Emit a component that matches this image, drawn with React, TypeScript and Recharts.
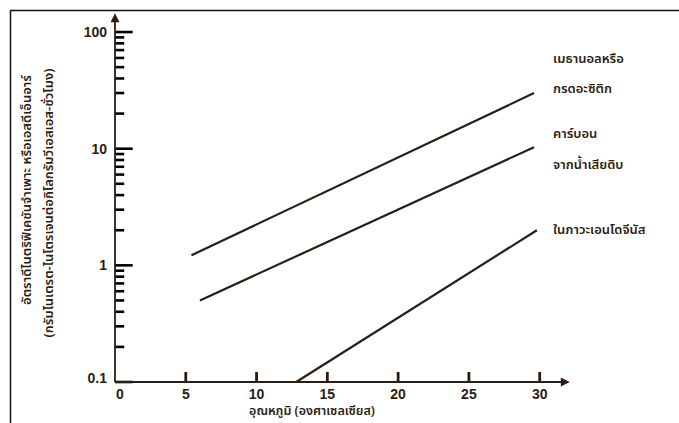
import React from "react";
import { LineChart, Line, XAxis, YAxis, ReferenceLine } from "recharts";

const INK = "#2b1d14";
const FONT = "'Noto Sans Thai', 'Noto Sans', 'DejaVu Sans', sans-serif";

// จุดปลายของแต่ละเส้น (อุณหภูมิ °C, อัตรา SDNR)
const methanolTemp = [5.4, 29.6];
const methanolRate = [1.22, 30];
const rawCarbonTemp = [6.0, 29.6];
const rawCarbonRate = [0.5, 10.3];
const endogenousTemp = [12.8, 29.8];
const endogenousRate = [0.1, 2.0];

const xTicks = [0, 5, 10, 15, 20, 25, 30];
const yTicks = [
  0.1, 0.2, 0.3, 0.4, 0.5, 0.6, 0.7, 0.8, 0.9,
  1, 2, 3, 4, 5, 6, 7, 8, 9,
  10, 20, 30, 40, 50, 60, 70, 80, 90,
  100,
];
const yMajor = [0.1, 1, 10, 100];

const seriesLabels = [
  ["เมธานอลหรือ", "กรดอะซิติก"],
  ["คาร์บอน", "จากน้ำเสียดิบ"],
  ["ในภาวะเอนโดจีนัส"],
];
const yTitle = [
  "อัตราดีไนตริฟิเคชันจำเพาะ หรือเอสดีเอ็นอาร์",
  "(กรัมไนเตรต-ไนโตรเจนต่อกิโลกรัมวีเอสเอส-ชั่วโมง)",
];
const xTitle = "อุณหภูมิ (องศาเซลเซียส)";

const toRows = (xs: number[], ys: number[]) => xs.map((x, i) => ({ t: x, r: ys[i] }));

const renderYTick = (props: any) => {
  const x = Number(props.x);
  const y = Number(props.y);
  const v = props.payload.value;
  if (!yMajor.includes(v)) return <g key={`y-${v}`} />;
  return (
    <text key={`y-${v}`} x={x - 8} y={y + (v === 0.1 ? 1 : 5)} textAnchor="end" fontSize={14} fontWeight={700} fill={INK} fontFamily="Arial, 'Liberation Sans', sans-serif">
      {v}
    </text>
  );
};

const renderXTick = (props: any) => {
  const x = Number(props.x);
  const y = Number(props.y);
  const v = props.payload.value;
  return (
    <text key={`x-${v}`} x={v === 0 ? x + 5 : x} y={y + 17} textAnchor="middle" fontSize={14} fontWeight={700} fill={INK} fontFamily="Arial, 'Liberation Sans', sans-serif">
      {v}
    </text>
  );
};

export default function App() {
  return (
    <div style={{ position: "absolute", left: 0, top: 0, width: 679, height: 423, overflow: "hidden", background: "#fff" }}>
      <svg width={0} height={0} style={{ position: "absolute" }}>
        <defs>
          <marker id="arr" viewBox="0 0 10 10" refX={8} refY={5} markerWidth={11} markerHeight={9} orient="auto-start-reverse" markerUnits="userSpaceOnUse">
            <path d="M0,0 L10,5 L0,10 z" fill={INK} />
          </marker>
        </defs>
      </svg>
      <LineChart width={679} height={423} margin={{ top: 15, right: 111, bottom: 0, left: 55 }}>
        <XAxis
          type="number"
          dataKey="t"
          domain={[0, 32]}
          ticks={xTicks}
          interval={0}
          tickSize={0}
          tickMargin={0}
          tickLine={false}
          height={41}
          tick={renderXTick}
          axisLine={{ stroke: INK, strokeWidth: 1.8, markerEnd: "url(#arr)" }}
        />
        <YAxis
          type="number"
          scale="log"
          dataKey="r"
          domain={[0.1, 140]}
          ticks={yTicks}
          interval={0}
          tickSize={0}
          tickMargin={0}
          tickLine={false}
          width={60}
          tick={renderYTick}
          axisLine={{ stroke: INK, strokeWidth: 1.8, markerStart: "url(#arr)" }}
        />
        {/* ขีดแกนชี้เข้าด้านใน */}
        {yTicks.map((v) => (
          <ReferenceLine
            key={`ty-${v}`}
            segment={[{ x: 0, y: v }, { x: yMajor.includes(v) ? 1.25 : 0.65, y: v }]}
            stroke="#000"
            strokeWidth={2.6}
            ifOverflow="visible"
          />
        ))}
        {xTicks.slice(1).map((v) => (
          <ReferenceLine
            key={`tx-${v}`}
            segment={[{ x: v, y: 0.1 }, { x: v, y: 0.122 }]}
            stroke={INK}
            strokeWidth={2.8}
            ifOverflow="visible"
          />
        ))}
        <Line data={toRows(methanolTemp, methanolRate)} dataKey="r" type="linear" stroke={INK} strokeWidth={2.2} dot={false} isAnimationActive={false} />
        <Line data={toRows(rawCarbonTemp, rawCarbonRate)} dataKey="r" type="linear" stroke={INK} strokeWidth={2.2} dot={false} isAnimationActive={false} />
        <Line data={toRows(endogenousTemp, endogenousRate)} dataKey="r" type="linear" stroke={INK} strokeWidth={2.2} dot={false} isAnimationActive={false} />
      </LineChart>
      <svg width={679} height={423} style={{ position: "absolute", left: 0, top: 0, pointerEvents: "none" }}>
        <rect x={10.5} y={10.5} width={720} height={500} fill="none" stroke="#111" strokeWidth={1.5} />
        <g fontFamily={FONT} fontSize={13} fontWeight={600} fill={INK}>
          <text x={553} y={63}>{seriesLabels[0][0]}</text>
          <text x={553} y={93}>{seriesLabels[0][1]}</text>
          <text x={553} y={138}>{seriesLabels[1][0]}</text>
          <text x={553} y={169}>{seriesLabels[1][1]}</text>
          <text x={553} y={234}>{seriesLabels[2][0]}</text>
          <text x={312} y={415} textAnchor="middle" fontSize={12.5}>{xTitle}</text>
          <text transform="translate(31,190) rotate(-90)" textAnchor="middle">{yTitle[0]}</text>
          <text transform="translate(53,203) rotate(-90)" textAnchor="middle">{yTitle[1]}</text>
        </g>
      </svg>
    </div>
  );
}
